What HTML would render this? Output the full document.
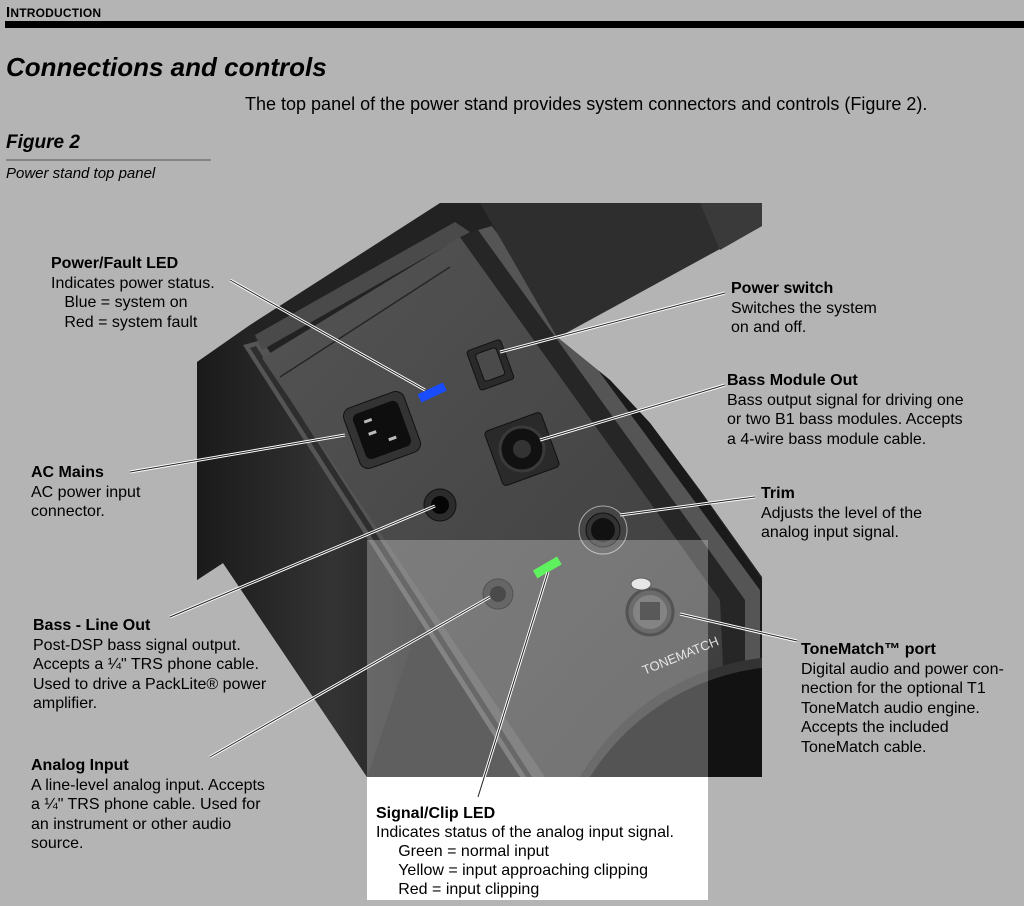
<!DOCTYPE html>
<html><head><style>
html,body{margin:0;width:1024px;height:906px;overflow:hidden}
body{background:#b4b4b4;position:relative;font-family:"Liberation Sans",sans-serif;color:#000}
svg{display:block}
.t{position:absolute;white-space:nowrap;font-size:16px;line-height:19.5px}
.b{font-weight:bold}
</style></head><body>
<svg width="1024" height="906" style="position:absolute;left:0;top:0">
<defs>
<linearGradient id="pn" x1="0" y1="0" x2="1" y2="1"><stop offset="0" stop-color="#545454"/><stop offset="1" stop-color="#3c3c3c"/></linearGradient>
<linearGradient id="sd" x1="0" y1="0" x2="1" y2="0"><stop offset="0" stop-color="#1a1a1a"/><stop offset="0.6" stop-color="#333"/><stop offset="1" stop-color="#262626"/></linearGradient>
<clipPath id="bd"><polygon points="197,362 250,325 440,203 480,203 557,337 610,380 650,423 700,490 762,577 762,777 367,777 223,563 197,580"/></clipPath>
</defs>
<rect x="5" y="21" width="1019" height="7" fill="#000"/>
<line x1="6" y1="160" x2="211" y2="160" stroke="#555" stroke-width="1"/>
<polygon points="440,203 762,203 762,226 557,338 480,230" fill="#2e2e2e"/>
<polygon points="700,203 762,203 762,226 720,250" fill="#3a3a3a"/>
<g clip-path="url(#bd)">
<rect x="197" y="203" width="565" height="574" fill="#222"/>
<polygon points="197,362 250,325 420,620 367,777 197,777" fill="url(#sd)"/>
<polygon points="243,345 262,340 545,777 520,777" fill="#555"/>
<polygon points="250,348 256,346 532,777 526,777" fill="#2e2e2e"/>
<polygon points="255,335 455,222 470,232 262,350" fill="#4a4a4a"/>
<polygon points="262,358 460,237 720,600 740,777 545,777" fill="url(#pn)"/>
<line x1="280" y1="377" x2="450" y2="267" stroke="#262626" stroke-width="1.5"/>
<polygon points="460,237 478,230 745,600 745,777 728,777 720,600" fill="#262626"/>
<polygon points="478,230 492,226 760,590 760,777 745,777 745,600" fill="#555"/>
<polygon points="492,226 510,222 762,580 762,777 760,777 760,590" fill="#1a1a1a"/>
<path d="M580,777 A243,243 0 0 1 1000,777 Z" fill="#333"/>
<path d="M590,777 A236,236 0 0 1 990,777 Z" fill="#121212"/>
</g>
<g transform="rotate(-20 382 430)">
<rect x="350" y="398" width="64" height="64" rx="9" fill="#333" stroke="#111"/>
<rect x="358" y="406" width="48" height="48" rx="6" fill="#0e0e0e"/>
<rect x="368" y="415" width="8" height="3" fill="#bbb"/><rect x="368" y="428" width="8" height="3" fill="#bbb"/><rect x="385" y="440" width="8" height="3" fill="#bbb"/>
</g>
<rect x="418" y="388" width="28" height="9" fill="#1a4cff" transform="rotate(-25 432 392)"/>
<g transform="rotate(-20 490 364)">
<rect x="472" y="344" width="36" height="42" rx="3" fill="#2a2a2a" stroke="#111"/>
<rect x="479" y="350" width="22" height="29" rx="3" fill="#4a4a4a" stroke="#111"/>
</g>
<rect x="492" y="420" width="60" height="58" rx="4" fill="#2a2a2a" stroke="#111" transform="rotate(-20 522 449)"/>
<circle cx="522" cy="449" r="22" fill="#111" stroke="#3a3a3a" stroke-width="3"/>
<circle cx="522" cy="449" r="9" fill="#333"/>
<circle cx="440" cy="505" r="16" fill="#2b2b2b" stroke="#111"/><circle cx="440" cy="505" r="9" fill="#050505"/>
<circle cx="603" cy="530" r="24" fill="none" stroke="#aaa" stroke-width="1"/>
<circle cx="603" cy="530" r="17" fill="#333" stroke="#111"/><circle cx="603" cy="530" r="12" fill="#111"/>
<circle cx="498" cy="594" r="15" fill="#2b2b2b" stroke="#111"/><circle cx="498" cy="594" r="8" fill="#050505"/>
<rect x="533" y="563" width="28" height="9" fill="#22ee22" transform="rotate(-30 547 567)"/>
<circle cx="650" cy="612" r="23" fill="#333" stroke="#111" stroke-width="3"/>
<circle cx="650" cy="612" r="17" fill="#555"/>
<rect x="640" y="602" width="20" height="18" fill="#1a1a1a"/>
<ellipse cx="641" cy="584" rx="10" ry="6" fill="#ddd" stroke="#222"/>
<text x="640" y="668" font-size="13" fill="#ddd" transform="rotate(-22 660 660)">TONEMATCH</text>
<rect x="367" y="540" width="341" height="237" fill="#fff" fill-opacity="0.28"/>
<rect x="367" y="777" width="341" height="123" fill="#fff"/>
<g stroke="#fff" stroke-width="3" fill="none">
<path d="M230,280 L425,390 M725,293 L500,352 M725,385 L540,440 M130,472 L345,435 M755,497 L620,515 M170,617 L435,506 M210,757 L490,597 M478,797 L548,572 M797,641 L680,614"/>
</g>
<g stroke="#222" stroke-width="1" fill="none">
<path d="M230,280 L425,390 M725,293 L500,352 M725,385 L540,440 M130,472 L345,435 M755,497 L620,515 M170,617 L435,506 M210,757 L490,597 M478,797 L548,572 M797,641 L680,614"/>
</g>
</svg>
<div class="t b" style="left:6px;top:3px;font-size:15px;letter-spacing:0.2px">I<span style="font-size:12px">NTRODUCTION</span></div>
<div class="t b" style="left:6px;top:52px;font-size:26px;line-height:30px;font-style:italic">Connections and controls</div>
<div class="t" style="left:245px;top:95px;font-size:18px">The top panel of the power stand provides system connectors and controls (Figure 2).</div>
<div class="t b" style="left:6px;top:133px;font-size:19px;font-style:italic">Figure 2</div>
<div class="t" style="left:6px;top:164px;font-size:15px;font-style:italic">Power stand top panel</div>
<div class="t" style="left:51px;top:254px"><span class="b">Power/Fault LED</span><br>Indicates power status.<br>&nbsp;&nbsp;&nbsp;Blue = system on<br>&nbsp;&nbsp;&nbsp;Red = system fault</div>
<div class="t" style="left:731px;top:279px"><span class="b">Power switch</span><br>Switches the system<br>on and off.</div>
<div class="t" style="left:727px;top:371px"><span class="b">Bass Module Out</span><br>Bass output signal for driving one<br>or two B1 bass modules. Accepts<br>a 4-wire bass module cable.</div>
<div class="t" style="left:31px;top:463px"><span class="b">AC Mains</span><br>AC power input<br>connector.</div>
<div class="t" style="left:761px;top:484px"><span class="b">Trim</span><br>Adjusts the level of the<br>analog input signal.</div>
<div class="t" style="left:33px;top:616px"><span class="b">Bass - Line Out</span><br>Post-DSP bass signal output.<br>Accepts a ¼" TRS phone cable.<br>Used to drive a PackLite® power<br>amplifier.</div>
<div class="t" style="left:801px;top:640px"><span class="b">ToneMatch™ port</span><br>Digital audio and power con-<br>nection for the optional T1<br>ToneMatch audio engine.<br>Accepts the included<br>ToneMatch cable.</div>
<div class="t" style="left:31px;top:756px"><span class="b">Analog Input</span><br>A line-level analog input. Accepts<br>a ¼" TRS phone cable. Used for<br>an instrument or other audio<br>source.</div>
<div class="t" style="left:376px;top:804px;line-height:19px"><span class="b">Signal/Clip LED</span><br>Indicates status of the analog input signal.<br>&nbsp;&nbsp;&nbsp;&nbsp;&nbsp;Green = normal input<br>&nbsp;&nbsp;&nbsp;&nbsp;&nbsp;Yellow = input approaching clipping<br>&nbsp;&nbsp;&nbsp;&nbsp;&nbsp;Red = input clipping</div>
</body></html>
